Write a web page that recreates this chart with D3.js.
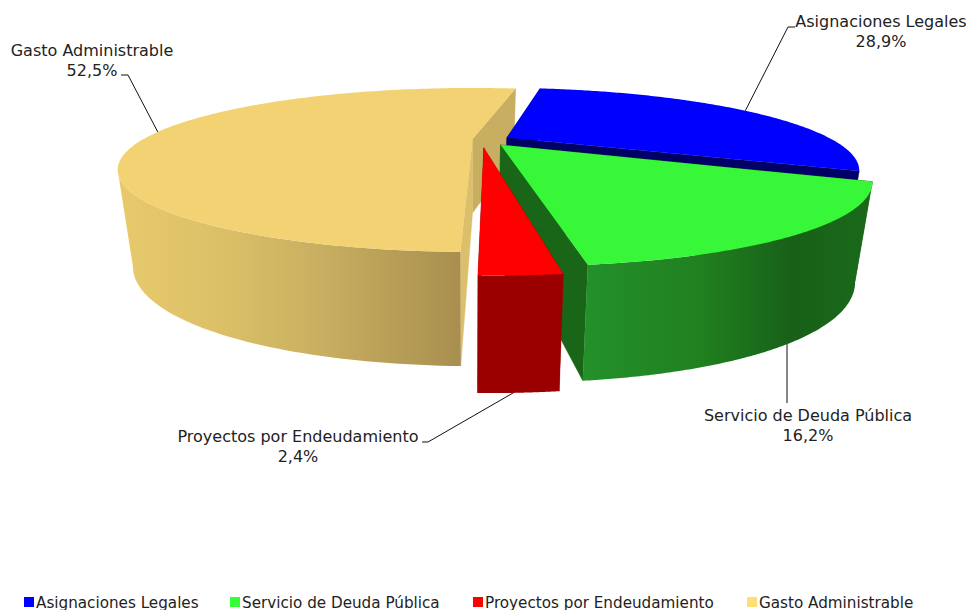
<!DOCTYPE html>
<html><head><meta charset="utf-8">
<style>html,body{margin:0;padding:0;background:#fff;overflow:hidden}svg{display:block}text{font-family:"DejaVu Sans",Verdana,sans-serif;fill:#222}</style>
<script src="https://cdn.jsdelivr.net/npm/d3@7/dist/d3.min.js"></script>
</head><body><svg id="c" width="966" height="610"></svg>
<script>
// ---- data ----
const categories = ["Asignaciones Legales","Servicio de Deuda Pública","Proyectos por Endeudamiento","Gasto Administrable"];
const shares = [28.9,16.2,2.4,52.5];
const shareLabels = ["28,9%","16,2%","2,4%","52,5%"];
const legendColors = ["#0000ff","#33ff33","#ff0000","#ffdd77"];
const topColors = ["#0000ff","#38f738","#ff0000","#f2d272"];
const cutColors = ["#000066","#1a6618","#990000","#dcbf6a"];
const backColors = ["#000066","#1a6618","#990000","#c8ae60"];

// ---- layout ----
const explodeX=[.113,.09,.04,.008], explodeY=[-.02,.08,.12,0], radii=[.985,.995,1,1];
const wallStops=[
 [["0%","#000066"],["100%","#000066"]],
 [["0%","#23902a"],["40%","#20801f"],["72%","#186018"],["100%","#1a6a1a"]],
 [["0%","#9a0000"],["100%","#9a0000"]],
 [["0%","#e8ca6c"],["30%","#dcc068"],["60%","#c8ae60"],["100%","#a88f4f"]]];
const labelCx=[881,808,298,92], labelY=[27,421,442,56];
const elbows=[[788,27,795,27],[787,403,787,403],[428,442,422,442],[128,75,121,75]];
const legendX=[24,230,473,747];

// ---- projection: slice-local polar point -> screen ----
const x0=470,y0=139,S=329,A=70.3,C=.378,shrink=.957;
const wallH=d3.scaleLinear().domain([-1,0,.4,1.12]).range([68,74,97,117.5]);
const world=(i,r,a)=>[explodeX[i]+r*radii[i]*Math.sin(a),explodeY[i]-r*radii[i]*Math.cos(a)];
const topPt=([X,Y])=>{const w=1-C*Y;return [x0+S*X/w,y0+A*Y/w]};
const botPt=([X,Y])=>{const p=topPt([X,Y]);return [x0+shrink*(p[0]-x0),p[1]+wallH(Y)]};

const rad=d=>d*Math.PI/180;
const arcs=d3.pie().sort(null).startAngle(rad(10.5)).endAngle(rad(370.5))(shares);
const svg=d3.select("#c"), defs=svg.append("defs");
const pathOf=d3.line();
const poly=(g,pts,fill)=>g.append("path").attr("d",pathOf(pts)+"Z").attr("fill",fill).attr("stroke",fill).attr("stroke-width",.4);
const angles=(a0,a1,n)=>d3.range(n+1).map(k=>a0+(a1-a0)*k/n);

wallStops.forEach((st,i)=>{
  const g=defs.append("linearGradient").attr("id","w"+i).attr("gradientUnits","userSpaceOnUse");
  const pts=angles(arcs[i].startAngle,arcs[i].endAngle,160).map(a=>world(i,1,a)).filter(p=>p[1]>=C).map(topPt);
  const ext=d3.extent(pts,p=>p[0]);
  g.attr("x1",ext[0]).attr("x2",ext[1]).attr("y1",0).attr("y2",0);
  st.forEach(s=>g.append("stop").attr("offset",s[0]).attr("stop-color",s[1]));
});

// leaders, below the pie
const leaders=svg.append("g").attr("fill","none").attr("stroke","#111").attr("stroke-width",1);
arcs.forEach((d,i)=>{
  const w=world(i,1,(d.startAngle+d.endAngle)/2);
  const onFront=i===1||i===2;
  const p=onFront?botPt(w):topPt(w);
  const e=elbows[i];
  const start=i===1?[e[0],p[1]-10]:[p[0],onFront?p[1]-3:p[1]];
  leaders.append("path").attr("d",pathOf([start,[e[0],e[1]],[e[2],e[3]]]));
});

// slices, painted far to near
[3,0,1,2].forEach(i=>{
  const d=arcs[i], g=svg.append("g");
  const tipW=world(i,0,0);
  const startW=world(i,1,d.startAngle), endW=world(i,1,d.endAngle);
  const as=angles(d.startAngle,d.endAngle,160);
  // cut faces
  poly(g,[topPt(tipW),topPt(endW),botPt(endW),botPt(tipW)],i===3?backColors[i]:cutColors[i]);
  poly(g,[topPt(tipW),topPt(startW),botPt(startW),botPt(tipW)],cutColors[i]);
  // rim wall: from the silhouette of the ellipse round the front
  const rim=as.map(a=>world(i,1,a)).filter(p=>p[1]>=C);
  if(rim.length>1){
    const outline=rim.map(topPt).concat(rim.slice().reverse().map(botPt));
    g.append("path").attr("d",pathOf(outline)+"Z").attr("fill","url(#w"+i+")");
  }
  // top cap
  const cap=[topPt(tipW)].concat(as.map(a=>topPt(world(i,1,a))));
  g.append("path").attr("d",pathOf(cap)+"Z").attr("fill",topColors[i]);
});

// labels
categories.forEach((c,i)=>{
  const t=svg.append("text").attr("text-anchor","middle").style("font-size","16px");
  t.append("tspan").attr("x",labelCx[i]).attr("y",labelY[i]).text(c);
  t.append("tspan").attr("x",labelCx[i]).attr("y",labelY[i]+19.5).text(shareLabels[i]);
});

// legend
const leg=svg.append("g");
categories.forEach((c,i)=>{
  leg.append("rect").attr("x",legendX[i]).attr("y",597).attr("width",10).attr("height",10).attr("fill",legendColors[i]);
  leg.append("text").attr("x",legendX[i]+12).attr("y",607.5).style("font-size","15.2px").text(c);
});
</script></body></html>
